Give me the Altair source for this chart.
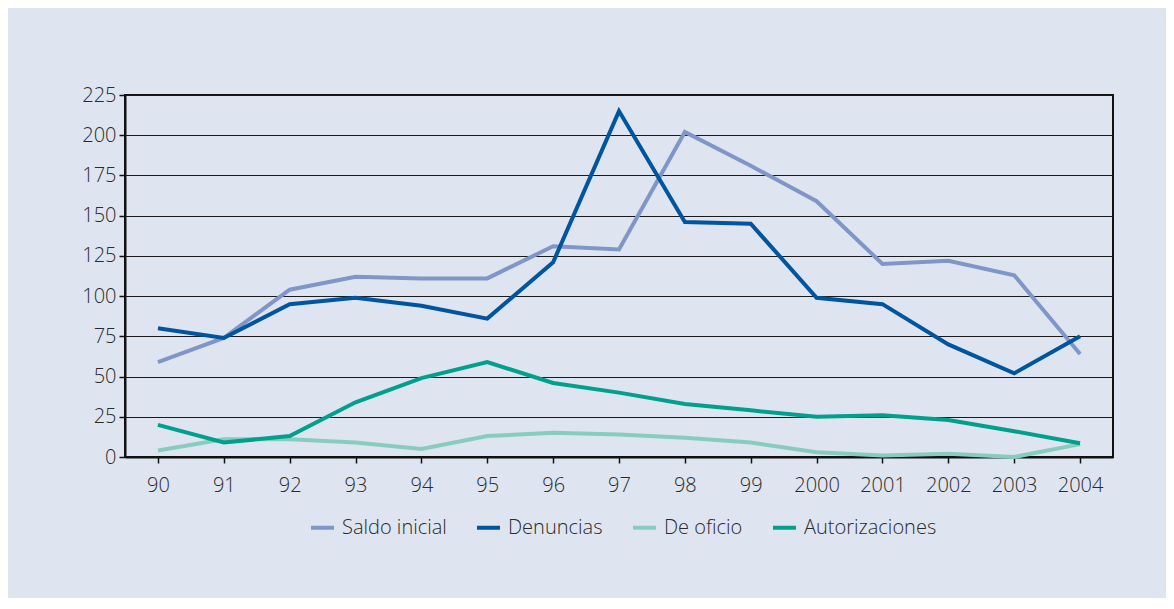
import altair as alt
import pandas as pd

years = ["90", "91", "92", "93", "94", "95", "96", "97", "98", "99",
         "2000", "2001", "2002", "2003", "2004"]
saldo_inicial = [59, 74, 104, 112, 111, 111, 131, 129, 202, 181, 159, 120, 122, 113, 64]
denuncias = [80, 74, 95, 99, 94, 86, 121, 215, 146, 145, 99, 95, 70, 52, 75]
de_oficio = [4, 11, 11, 9, 5, 13, 15, 14, 12, 9, 3, 1, 2, 0, 8]
autorizaciones = [20, 9, 13, 34, 49, 59, 46, 40, 33, 29, 25, 26, 23, 16, 8.5]

series_names = ["Saldo inicial", "Denuncias", "De oficio", "Autorizaciones"]
series_colors = ["#8096C8", "#0055A0", "#88CCC0", "#00A08C"]
y_ticks = [0, 25, 50, 75, 100, 125, 150, 175, 200, 225]

rows = []
for name, vals in zip(series_names, [saldo_inicial, denuncias, de_oficio, autorizaciones]):
    for yr, v in zip(years, vals):
        rows.append({"year": yr, "value": v, "serie": name})
df = pd.DataFrame(rows)

FONT = "Open Sans"
TEXT = "#2a2a2a"
WEIGHT = 300

chart = alt.Chart(df).mark_line(strokeWidth=4, strokeJoin="miter").encode(
    x=alt.X("year:N", sort=years, title=None,
            scale=alt.Scale(paddingInner=0, paddingOuter=0),
            axis=alt.Axis(labelAngle=0, bandPosition=0, tickSize=6, tickWidth=1.5,
                          tickColor="#111", domainColor="#111", domainWidth=2,
                          labelPadding=12, labelFontSize=20, labelFont=FONT,
                          labelFontWeight=WEIGHT, labelColor=TEXT, grid=False)),
    y=alt.Y("value:Q", title=None,
            scale=alt.Scale(domain=[0, 225], nice=False),
            axis=alt.Axis(values=y_ticks, tickSize=6, tickWidth=1.5, tickColor="#111",
                          domainColor="#111", domainWidth=2, labelPadding=3,
                          labelFontSize=20, labelFont=FONT, labelFontWeight=WEIGHT,
                          labelColor=TEXT,
                          grid=True, gridColor="#1a1a1a", gridWidth=1.2)),
    color=alt.Color("serie:N", sort=series_names,
                    scale=alt.Scale(domain=series_names, range=series_colors),
                    legend=alt.Legend(title=None, orient="none", direction="horizontal",
                                      legendX=184, legendY=419, padding=0,
                                      symbolType="stroke", symbolStrokeWidth=4,
                                      symbolSize=529, columnPadding=22, labelOffset=6,
                                      labelFontSize=20, labelFont=FONT,
                                      labelFontWeight=WEIGHT, labelColor=TEXT)),
    detail="serie:N",
).properties(
    width=988,
    height=362,
    autosize=alt.AutoSizeParams(type="none"),
    padding={"left": 117, "top": 87, "right": 53, "bottom": 141},
    background="#DFE5F0",
).configure_view(
    stroke="#111", strokeWidth=2
)

chart.save("out.html", embed_options={"renderer": "svg", "actions": False})
